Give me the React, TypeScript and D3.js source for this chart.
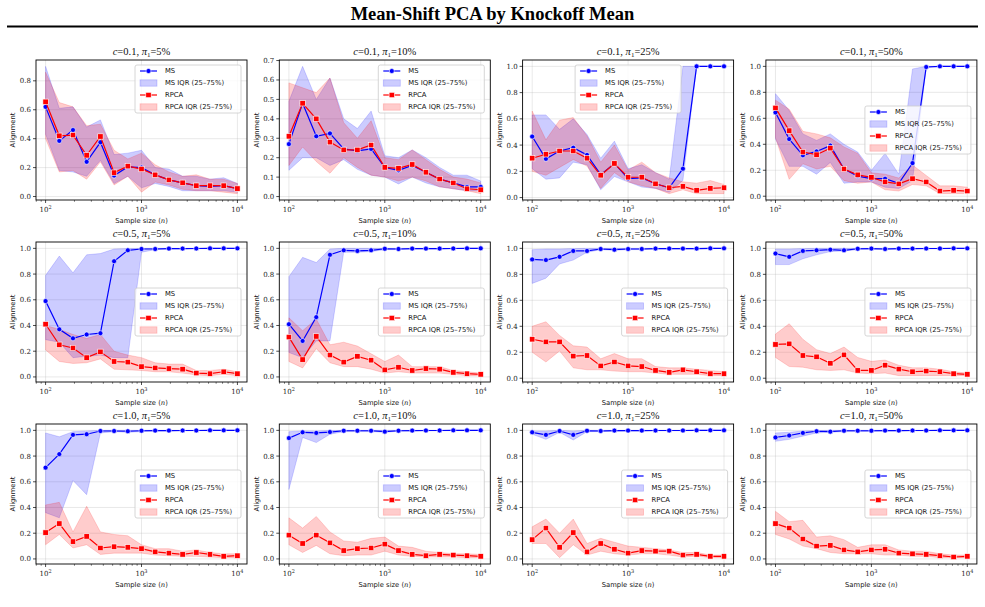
import React from "react";
import * as d3 from "d3";

// sample sizes on the x axis (log spaced, 10^2 .. 10^4)
const sampleSizes = [100, 139, 193, 268, 373, 518, 720, 1000, 1389, 1931, 2683, 3728, 5179, 7197, 10000];
const cLabels = ["0.1", "0.5", "1.0"];
const piLabels = ["5%", "10%", "25%", "50%"];

// c=0.1, pi=5%
const p1ms = [0.62, 0.385, 0.46, 0.24, 0.375, 0.145, 0.205, 0.2, 0.15, 0.115, 0.095, 0.075, 0.07, 0.075, 0.055];
const p1msLo = [0.43, 0.18, 0.17, 0.14, 0.25, 0.09, 0.14, 0.06, 0.09, 0.07, 0.04, 0.04, 0.04, 0.04, 0.03];
const p1msHi = [0.9, 0.61, 0.62, 0.48, 0.53, 0.29, 0.3, 0.32, 0.2, 0.19, 0.14, 0.14, 0.12, 0.13, 0.09];
const p1rp = [0.655, 0.42, 0.425, 0.285, 0.415, 0.165, 0.21, 0.19, 0.15, 0.115, 0.095, 0.075, 0.075, 0.075, 0.055];
const p1rpLo = [0.4, 0.17, 0.18, 0.12, 0.24, 0.08, 0.14, 0.03, 0.1, 0.08, 0.05, 0.04, 0.04, 0.03, 0.02];
const p1rpHi = [0.86, 0.65, 0.62, 0.49, 0.5, 0.32, 0.26, 0.3, 0.22, 0.17, 0.14, 0.15, 0.12, 0.12, 0.09];

// c=0.1, pi=10%
const p2ms = [0.27, 0.48, 0.31, 0.325, 0.245, 0.235, 0.245, 0.15, 0.135, 0.16, 0.125, 0.09, 0.07, 0.05, 0.05];
const p2msLo = [0.135, 0.2, 0.2, 0.16, 0.19, 0.14, 0.11, 0.1, 0.065, 0.1, 0.07, 0.05, 0.04, 0.03, 0.03];
const p2msHi = [0.49, 0.67, 0.5, 0.61, 0.4, 0.35, 0.44, 0.21, 0.2, 0.24, 0.2, 0.15, 0.11, 0.11, 0.08];
const p2rp = [0.31, 0.48, 0.4, 0.28, 0.24, 0.24, 0.265, 0.15, 0.145, 0.165, 0.125, 0.09, 0.07, 0.04, 0.035];
const p2rpLo = [0.16, 0.255, 0.18, 0.12, 0.2, 0.15, 0.11, 0.1, 0.08, 0.1, 0.08, 0.05, 0.04, 0.03, 0.015];
const p2rpHi = [0.585, 0.56, 0.535, 0.61, 0.38, 0.3, 0.39, 0.2, 0.19, 0.24, 0.19, 0.14, 0.1, 0.09, 0.07];

// c=0.1, pi=25%
const p3ms = [0.465, 0.295, 0.355, 0.38, 0.325, 0.175, 0.26, 0.145, 0.15, 0.105, 0.075, 0.22, 1.0, 1.0, 1.0];
const p3msLo = [0.22, 0.14, 0.15, 0.27, 0.25, 0.06, 0.16, 0.12, 0.08, 0.07, 0.04, 0.13, 1.0, 1.0, 1.0];
const p3msHi = [0.63, 0.63, 0.52, 0.6, 0.48, 0.3, 0.43, 0.22, 0.25, 0.19, 0.14, 1.0, 1.0, 1.0, 1.0];
const p3rp = [0.3, 0.33, 0.355, 0.355, 0.3, 0.17, 0.26, 0.155, 0.155, 0.105, 0.075, 0.085, 0.055, 0.07, 0.075];
const p3rpLo = [0.2, 0.17, 0.23, 0.29, 0.24, 0.07, 0.19, 0.12, 0.09, 0.07, 0.03, 0.06, 0.03, 0.03, 0.03];
const p3rpHi = [0.66, 0.44, 0.59, 0.61, 0.47, 0.27, 0.4, 0.21, 0.27, 0.19, 0.15, 0.12, 0.11, 0.13, 0.1];

// c=0.1, pi=50%
const p4ms = [0.645, 0.44, 0.315, 0.345, 0.39, 0.21, 0.155, 0.135, 0.135, 0.1, 0.255, 0.995, 1.0, 1.0, 1.0];
const p4msLo = [0.44, 0.23, 0.23, 0.17, 0.26, 0.1, 0.11, 0.11, 0.07, 0.06, 0.12, 0.99, 1.0, 1.0, 1.0];
const p4msHi = [0.79, 0.66, 0.48, 0.43, 0.48, 0.4, 0.34, 0.2, 0.33, 0.17, 0.98, 1.0, 1.0, 1.0, 1.0];
const p4rp = [0.68, 0.505, 0.34, 0.32, 0.37, 0.21, 0.165, 0.145, 0.11, 0.095, 0.135, 0.11, 0.04, 0.045, 0.04];
const p4rpLo = [0.45, 0.13, 0.25, 0.21, 0.23, 0.12, 0.1, 0.11, 0.05, 0.04, 0.09, 0.08, 0.02, 0.02, 0.02];
const p4rpHi = [0.74, 0.67, 0.5, 0.48, 0.45, 0.38, 0.33, 0.18, 0.17, 0.14, 0.24, 0.16, 0.08, 0.08, 0.07];

// c=0.5, pi=5%
const p5ms = [0.59, 0.37, 0.3, 0.33, 0.34, 0.9, 0.985, 0.995, 0.995, 0.998, 0.998, 0.999, 1.0, 1.0, 1.0];
const p5msLo = [0.29, 0.27, 0.15, 0.16, 0.17, 0.15, 0.15, 0.97, 0.99, 0.995, 0.995, 0.997, 0.998, 0.999, 0.999];
const p5msHi = [0.79, 0.94, 0.81, 0.95, 0.96, 0.995, 0.998, 1.0, 1.0, 1.0, 1.0, 1.0, 1.0, 1.0, 1.0];
const p5rp = [0.41, 0.25, 0.225, 0.15, 0.195, 0.12, 0.115, 0.08, 0.07, 0.065, 0.06, 0.03, 0.025, 0.04, 0.025];
const p5rpLo = [0.21, 0.12, 0.105, 0.11, 0.14, 0.06, 0.055, 0.05, 0.04, 0.04, 0.03, 0.015, 0.01, 0.02, 0.01];
const p5rpHi = [0.4, 0.37, 0.33, 0.3, 0.33, 0.2, 0.17, 0.15, 0.11, 0.1, 0.1, 0.05, 0.05, 0.06, 0.04];

// c=0.5, pi=10%
const p6ms = [0.41, 0.28, 0.465, 0.95, 0.985, 0.98, 0.985, 0.997, 0.995, 0.998, 0.998, 0.998, 0.999, 1.0, 1.0];
const p6msLo = [0.19, 0.15, 0.28, 0.28, 0.97, 0.97, 0.975, 0.99, 0.99, 0.995, 0.995, 0.995, 0.997, 0.998, 0.998];
const p6msHi = [0.78, 0.93, 0.89, 0.995, 1.0, 1.0, 1.0, 1.0, 1.0, 1.0, 1.0, 1.0, 1.0, 1.0, 1.0];
const p6rp = [0.31, 0.135, 0.315, 0.17, 0.115, 0.16, 0.13, 0.055, 0.075, 0.05, 0.065, 0.06, 0.035, 0.025, 0.02];
const p6rpLo = [0.12, 0.07, 0.22, 0.11, 0.08, 0.08, 0.06, 0.03, 0.04, 0.03, 0.03, 0.03, 0.02, 0.01, 0.01];
const p6rpHi = [0.46, 0.36, 0.45, 0.25, 0.27, 0.24, 0.18, 0.12, 0.17, 0.08, 0.08, 0.08, 0.05, 0.04, 0.03];

// c=0.5, pi=25%
const p7ms = [0.915, 0.91, 0.935, 0.98, 0.98, 0.995, 0.99, 0.995, 0.995, 0.998, 0.998, 0.998, 0.998, 1.0, 1.0];
const p7msLo = [0.73, 0.77, 0.88, 0.91, 0.97, 0.99, 0.985, 0.99, 0.99, 0.995, 0.995, 0.995, 0.996, 0.998, 0.998];
const p7msHi = [0.99, 0.995, 0.995, 0.998, 1.0, 1.0, 1.0, 1.0, 1.0, 1.0, 1.0, 1.0, 1.0, 1.0, 1.0];
const p7rp = [0.3, 0.28, 0.28, 0.17, 0.175, 0.095, 0.125, 0.095, 0.09, 0.06, 0.045, 0.065, 0.05, 0.035, 0.035];
const p7rpLo = [0.2, 0.125, 0.21, 0.08, 0.065, 0.065, 0.055, 0.05, 0.05, 0.04, 0.03, 0.03, 0.03, 0.02, 0.02];
const p7rpHi = [0.4, 0.435, 0.33, 0.25, 0.24, 0.15, 0.19, 0.15, 0.15, 0.09, 0.08, 0.08, 0.07, 0.06, 0.05];

// c=0.5, pi=50%
const p8ms = [0.96, 0.935, 0.98, 0.985, 0.99, 0.985, 0.997, 0.998, 0.995, 0.998, 0.998, 0.999, 0.999, 1.0, 1.0];
const p8msLo = [0.875, 0.875, 0.92, 0.95, 0.975, 0.98, 0.99, 0.993, 0.99, 0.995, 0.995, 0.996, 0.997, 0.998, 0.998];
const p8msHi = [0.995, 0.995, 0.998, 1.0, 1.0, 1.0, 1.0, 1.0, 1.0, 1.0, 1.0, 1.0, 1.0, 1.0, 1.0];
const p8rp = [0.26, 0.265, 0.175, 0.165, 0.115, 0.18, 0.06, 0.06, 0.1, 0.07, 0.05, 0.055, 0.05, 0.035, 0.03];
const p8rpLo = [0.16, 0.09, 0.085, 0.065, 0.06, 0.065, 0.04, 0.035, 0.04, 0.02, 0.02, 0.02, 0.02, 0.02, 0.02];
const p8rpHi = [0.34, 0.42, 0.3, 0.22, 0.19, 0.24, 0.16, 0.13, 0.14, 0.1, 0.08, 0.08, 0.07, 0.05, 0.04];

// c=1.0, pi=5%
const p9ms = [0.71, 0.815, 0.965, 0.97, 0.995, 0.995, 0.993, 0.997, 0.998, 0.998, 0.999, 0.999, 1.0, 1.0, 1.0];
const p9msLo = [0.36, 0.32, 0.61, 0.5, 0.98, 0.99, 0.985, 0.99, 0.995, 0.995, 0.996, 0.997, 0.998, 0.998, 0.999];
const p9msHi = [0.98, 0.95, 0.99, 0.995, 1.0, 1.0, 1.0, 1.0, 1.0, 1.0, 1.0, 1.0, 1.0, 1.0, 1.0];
const p9rp = [0.205, 0.275, 0.135, 0.175, 0.085, 0.095, 0.09, 0.08, 0.055, 0.045, 0.035, 0.05, 0.035, 0.02, 0.025];
const p9rpLo = [0.11, 0.19, 0.085, 0.11, 0.035, 0.045, 0.045, 0.045, 0.03, 0.025, 0.02, 0.02, 0.015, 0.01, 0.01];
const p9rpHi = [0.42, 0.44, 0.21, 0.41, 0.21, 0.19, 0.18, 0.11, 0.08, 0.08, 0.06, 0.07, 0.05, 0.04, 0.04];

// c=1.0, pi=10%
const p10ms = [0.94, 0.985, 0.98, 0.987, 0.997, 0.997, 0.997, 0.99, 0.997, 0.998, 0.999, 0.999, 1.0, 1.0, 1.0];
const p10msLo = [0.54, 0.945, 0.905, 0.97, 0.99, 0.99, 0.99, 0.985, 0.993, 0.995, 0.996, 0.997, 0.998, 0.998, 0.999];
const p10msHi = [0.99, 0.995, 0.995, 0.998, 1.0, 1.0, 1.0, 1.0, 1.0, 1.0, 1.0, 1.0, 1.0, 1.0, 1.0];
const p10rp = [0.185, 0.12, 0.185, 0.125, 0.065, 0.08, 0.085, 0.115, 0.065, 0.035, 0.025, 0.035, 0.03, 0.025, 0.02];
const p10rpLo = [0.11, 0.05, 0.105, 0.04, 0.025, 0.03, 0.03, 0.06, 0.03, 0.02, 0.015, 0.015, 0.015, 0.01, 0.01];
const p10rpHi = [0.32, 0.24, 0.33, 0.21, 0.14, 0.13, 0.16, 0.17, 0.1, 0.09, 0.06, 0.05, 0.04, 0.04, 0.035];

// c=1.0, pi=25%
const p11ms = [0.985, 0.965, 0.995, 0.965, 0.997, 0.995, 0.998, 0.998, 0.998, 0.999, 0.999, 0.999, 1.0, 1.0, 1.0];
const p11msLo = [0.97, 0.93, 0.985, 0.925, 0.99, 0.99, 0.993, 0.995, 0.995, 0.996, 0.997, 0.997, 0.998, 0.998, 0.999];
const p11msHi = [0.995, 0.995, 1.0, 0.995, 1.0, 1.0, 1.0, 1.0, 1.0, 1.0, 1.0, 1.0, 1.0, 1.0, 1.0];
const p11rp = [0.15, 0.24, 0.09, 0.205, 0.055, 0.12, 0.075, 0.045, 0.065, 0.06, 0.06, 0.03, 0.035, 0.02, 0.02];
const p11rpLo = [0.12, 0.12, 0.01, 0.11, 0.03, 0.06, 0.04, 0.03, 0.04, 0.04, 0.03, 0.015, 0.02, 0.01, 0.01];
const p11rpHi = [0.25, 0.31, 0.2, 0.31, 0.12, 0.16, 0.13, 0.1, 0.09, 0.08, 0.07, 0.05, 0.05, 0.03, 0.03];

// c=1.0, pi=50%
const p12ms = [0.945, 0.96, 0.98, 0.993, 0.99, 0.997, 0.997, 0.997, 0.998, 0.998, 0.999, 0.999, 1.0, 1.0, 1.0];
const p12msLo = [0.915, 0.93, 0.955, 0.98, 0.985, 0.99, 0.99, 0.992, 0.995, 0.995, 0.996, 0.997, 0.998, 0.998, 0.999];
const p12msHi = [0.98, 0.985, 0.995, 0.998, 1.0, 1.0, 1.0, 1.0, 1.0, 1.0, 1.0, 1.0, 1.0, 1.0, 1.0];
const p12rp = [0.275, 0.24, 0.155, 0.1, 0.105, 0.07, 0.055, 0.07, 0.075, 0.045, 0.04, 0.035, 0.025, 0.015, 0.02];
const p12rpLo = [0.19, 0.155, 0.1, 0.08, 0.05, 0.04, 0.04, 0.04, 0.03, 0.03, 0.02, 0.02, 0.01, 0.01, 0.01];
const p12rpHi = [0.37, 0.29, 0.3, 0.17, 0.18, 0.15, 0.09, 0.11, 0.11, 0.07, 0.06, 0.06, 0.04, 0.03, 0.03];

const yTickSteps = [0.2, 0.1, 0.2, 0.2, 0.2, 0.2, 0.2, 0.2, 0.2, 0.2, 0.2, 0.2];
const legendLocs = [
  "upper right", "upper right", "upper center", "center right",
  "center right", "center right", "center right", "center right",
  "center right", "center right", "center right", "center right",
];

const panels = [
  [p1ms, p1msLo, p1msHi, p1rp, p1rpLo, p1rpHi],
  [p2ms, p2msLo, p2msHi, p2rp, p2rpLo, p2rpHi],
  [p3ms, p3msLo, p3msHi, p3rp, p3rpLo, p3rpHi],
  [p4ms, p4msLo, p4msHi, p4rp, p4rpLo, p4rpHi],
  [p5ms, p5msLo, p5msHi, p5rp, p5rpLo, p5rpHi],
  [p6ms, p6msLo, p6msHi, p6rp, p6rpLo, p6rpHi],
  [p7ms, p7msLo, p7msHi, p7rp, p7rpLo, p7rpHi],
  [p8ms, p8msLo, p8msHi, p8rp, p8rpLo, p8rpHi],
  [p9ms, p9msLo, p9msHi, p9rp, p9rpLo, p9rpHi],
  [p10ms, p10msLo, p10msHi, p10rp, p10rpLo, p10rpHi],
  [p11ms, p11msLo, p11msHi, p11rp, p11rpLo, p11rpHi],
  [p12ms, p12msLo, p12msHi, p12rp, p12rpLo, p12rpHi],
];

const W = 985;
const H = 607;
const AW = 211;
const AH = 140;
const LEFT0 = 36;
const COL_STEP = 243.3;
const TOP0 = 60;
const ROW_STEP = 182;

const BLUE = "#0000ff";
const RED = "#ff0000";
const SERIF = "'DejaVu Serif', serif";
const TSERIF = "'Liberation Serif', serif";
const SANS = "'DejaVu Sans', sans-serif";

const Panel = ({ idx }: { idx: number }) => {
  const row = Math.floor(idx / 4);
  const col = idx % 4;
  const x0 = LEFT0 + col * COL_STEP;
  const y0 = TOP0 + row * ROW_STEP;
  const [ms, msLo, msHi, rp, rpLo, rpHi] = panels[idx];

  const x = d3
    .scaleLog()
    .domain([Math.pow(10, 1.9), Math.pow(10, 4.1)])
    .range([x0, x0 + AW]);

  const all = [...ms, ...msLo, ...msHi, ...rp, ...rpLo, ...rpHi];
  const mn = d3.min(all) as number;
  const mx = d3.max(all) as number;
  const pad = (mx - mn) * 0.05;
  const y = d3
    .scaleLinear()
    .domain([mn - pad, mx + pad])
    .range([y0 + AH, y0]);

  const step = yTickSteps[idx];
  const yTicks = d3.range(0, mx + pad + 1e-9, step);
  const majorX = [100, 1000, 10000];
  const minorX: number[] = [];
  [10, 100, 1000].forEach((b) => {
    for (let k = 2; k <= 9; k++) {
      const v = b * k;
      if (v >= x.domain()[0] && v <= x.domain()[1]) minorX.push(v);
    }
  });

  const band = (lo: number[], hi: number[]) =>
    d3
      .area<number>()
      .x((_, i) => x(sampleSizes[i]))
      .y0((_, i) => y(lo[i]))
      .y1((_, i) => y(hi[i]))(lo) || "";
  const line = (v: number[]) =>
    d3
      .line<number>()
      .x((_, i) => x(sampleSizes[i]))
      .y((d) => y(d))(v) || "";

  // legend placement
  const LW = 106;
  const LH = 48;
  const loc = legendLocs[idx];
  let lx = x0 + AW - 6 - LW;
  let ly = y0 + 5;
  if (loc === "upper center") lx = x0 + AW / 2 - LW / 2;
  if (loc === "center right") ly = y0 + AH / 2 - LH / 2;

  const legendItems = [
    { kind: "line", color: BLUE, marker: "circle", label: "MS" },
    { kind: "patch", color: BLUE, label: "MS IQR (25\u201375%)" },
    { kind: "line", color: RED, marker: "square", label: "RPCA" },
    { kind: "patch", color: RED, label: "RPCA IQR (25\u201375%)" },
  ];

  return (
    <g>
      {/* grid */}
      {yTicks.map((t) => (
        <line key={"gy" + t} x1={x0} x2={x0 + AW} y1={y(t)} y2={y(t)} stroke="#b0b0b0" strokeOpacity={0.35} strokeWidth={0.8} />
      ))}
      {majorX.map((t) => (
        <line key={"gx" + t} x1={x(t)} x2={x(t)} y1={y0} y2={y0 + AH} stroke="#b0b0b0" strokeOpacity={0.35} strokeWidth={0.8} />
      ))}

      {/* IQR bands */}
      <path d={band(msLo, msHi)} fill={BLUE} fillOpacity={0.2} stroke={BLUE} strokeOpacity={0.2} strokeWidth={0.8} />
      <path d={band(rpLo, rpHi)} fill={RED} fillOpacity={0.2} stroke={RED} strokeOpacity={0.2} strokeWidth={0.8} />

      {/* MS median */}
      <path d={line(ms)} fill="none" stroke={BLUE} strokeWidth={1.2} />
      {ms.map((v, i) => (
        <circle key={"mc" + i} cx={x(sampleSizes[i])} cy={y(v)} r={2.5} fill={BLUE} stroke="#fff" strokeWidth={0.6} />
      ))}
      {/* RPCA median */}
      <path d={line(rp)} fill="none" stroke={RED} strokeWidth={1.2} />
      {rp.map((v, i) => (
        <rect key={"rs" + i} x={x(sampleSizes[i]) - 2.7} y={y(v) - 2.7} width={5.4} height={5.4} fill={RED} stroke="#fff" strokeWidth={0.6} />
      ))}

      {/* frame */}
      <rect x={x0} y={y0} width={AW} height={AH} fill="none" stroke="#000" strokeWidth={0.9} />

      {/* y ticks */}
      {yTicks.map((t) => (
        <g key={"yt" + t}>
          <line x1={x0 - 3} x2={x0} y1={y(t)} y2={y(t)} stroke="#000" strokeWidth={0.7} />
          <text x={x0 - 5} y={y(t)} dy="0.35em" textAnchor="end" fontFamily={SERIF} fontSize={7} fill="#222">
            {t.toFixed(1)}
          </text>
        </g>
      ))}
      {/* x ticks */}
      {majorX.map((t) => (
        <g key={"xt" + t}>
          <line x1={x(t)} x2={x(t)} y1={y0 + AH} y2={y0 + AH + 3} stroke="#000" strokeWidth={0.7} />
          <text x={x(t)} y={y0 + AH + 12} textAnchor="middle" fontFamily={SERIF} fontSize={7} fill="#222">
            10
            <tspan dy={-3} fontSize={5}>
              {Math.round(Math.log10(t))}
            </tspan>
          </text>
        </g>
      ))}
      {minorX.map((t) => (
        <line key={"mx" + t} x1={x(t)} x2={x(t)} y1={y0 + AH} y2={y0 + AH + 1.8} stroke="#000" strokeWidth={0.5} />
      ))}

      {/* labels */}
      <text x={x0 + AW / 2} y={y0 + AH + 23} textAnchor="middle" fontFamily={SANS} fontSize={6.8} fill="#111">
        Sample size (<tspan fontFamily={SERIF} fontStyle="italic">n</tspan>)
      </text>
      <text
        transform={`translate(${x0 - 23},${y0 + AH / 2}) rotate(-90)`}
        textAnchor="middle"
        dy="0.35em"
        fontFamily={SANS}
        fontSize={6.8}
        fill="#111"
      >
        Alignment
      </text>
      <text x={x0 + AW / 2} y={y0 - 5} textAnchor="middle" fontFamily={TSERIF} fontSize={10.5} fill="#111">
        <tspan fontStyle="italic">c</tspan>={cLabels[row]}, <tspan fontStyle="italic">π</tspan>
        <tspan dy={2} fontSize={7}>1</tspan>
        <tspan dy={-2}>={piLabels[col]}</tspan>
      </text>

      {/* legend */}
      <rect x={lx} y={ly} width={LW} height={LH} rx={2} fill="#fff" fillOpacity={0.8} stroke="#cccccc" strokeWidth={0.8} />
      {legendItems.map((it, k) => {
        const cy = ly + 6 + k * 12;
        const hx0 = lx + 5;
        const hx1 = lx + 22;
        return (
          <g key={"lg" + k}>
            {it.kind === "line" ? (
              <g>
                <line x1={hx0} x2={hx1} y1={cy} y2={cy} stroke={it.color} strokeWidth={1.2} />
                {it.marker === "circle" ? (
                  <circle cx={(hx0 + hx1) / 2} cy={cy} r={2.5} fill={it.color} stroke="#fff" strokeWidth={0.6} />
                ) : (
                  <rect x={(hx0 + hx1) / 2 - 2.7} y={cy - 2.7} width={5.4} height={5.4} fill={it.color} stroke="#fff" strokeWidth={0.6} />
                )}
              </g>
            ) : (
              <rect x={hx0} y={cy - 3.2} width={hx1 - hx0} height={6.4} fill={it.color} fillOpacity={0.2} stroke={it.color} strokeOpacity={0.2} strokeWidth={0.8} />
            )}
            <text x={lx + 30} y={cy} dy="0.35em" fontFamily={SANS} fontSize={6.8} fill="#111">
              {it.label}
            </text>
          </g>
        );
      })}
    </g>
  );
};

const App = () => {
  return (
    <svg width={W} height={H} style={{ position: "absolute", left: 0, top: 0, background: "#fff" }}>
      <rect x={0} y={0} width={W} height={H} fill="#fff" />
      <text x={492.5} y={20} textAnchor="middle" fontFamily="'Liberation Serif', serif" fontWeight="bold" fontSize={18.5} fill="#000">
        Mean-Shift PCA by Knockoff Mean
      </text>
      <line x1={7} x2={978} y1={26.5} y2={26.5} stroke="#000" strokeWidth={2} />
      {panels.map((_, i) => (
        <Panel key={i} idx={i} />
      ))}
    </svg>
  );
};

export default App;
